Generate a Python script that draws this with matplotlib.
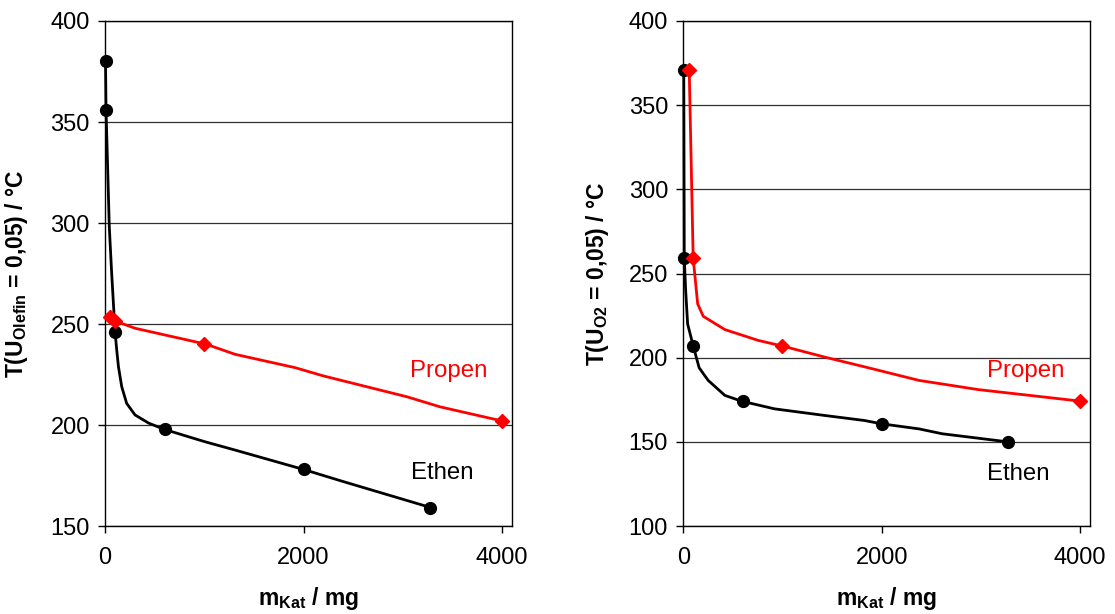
import matplotlib
matplotlib.use("Agg")
import matplotlib.pyplot as plt

plt.rcParams["font.family"] = ["Liberation Sans", "DejaVu Sans"]
plt.rcParams["mathtext.fontset"] = "custom"
plt.rcParams["mathtext.rm"] = "Liberation Sans"
plt.rcParams["mathtext.bf"] = "Liberation Sans:bold"

# left panel: T(U_Olefin = 0,05) vs catalyst mass
ethen_x_l = [5, 10, 100, 600, 2000, 3270]
ethen_y_l = [380, 356, 246, 198, 178, 159]
ethen_curve_x_l = [5, 10, 43, 67, 101, 118, 135, 168, 218, 302, 437, 588, 840, 1008, 1310, 2000, 2400, 3270]
ethen_curve_y_l = [380, 356, 298, 275, 246, 237, 228.9, 219, 210.7, 205, 201, 198, 194.2, 191.7, 187.6, 178, 172, 159.3]

propen_x_l = [50, 100, 1000, 4000]
propen_y_l = [253.6, 251.5, 240, 202]
propen_curve_x_l = [50, 100, 302, 1018, 1310, 1914, 2200, 3040, 3375, 4000]
propen_curve_y_l = [253.6, 251.5, 247.9, 240, 235, 228.4, 224.3, 214, 209, 202]

# right panel: T(U_O2 = 0,05) vs catalyst mass
ethen_x_r = [5, 10, 100, 600, 2000, 3270]
ethen_y_r = [371, 259.5, 207, 174.5, 160.8, 150]
ethen_curve_x_r = [5, 10, 24, 44, 100, 160, 251, 419, 586, 920, 1422, 1824, 2000, 2376, 2610, 3270]
ethen_curve_y_r = [371, 259.5, 240, 220, 207, 194, 186.5, 177.6, 174.2, 169.6, 165.7, 162.7, 160.7, 157.7, 154.8, 150]

propen_x_r = [60, 100, 1000, 4000]
propen_y_r = [371, 259, 207, 174.2]
propen_curve_x_r = [60, 100, 145, 201, 419, 753, 1014, 1422, 1900, 2376, 2978, 3280, 4000]
propen_curve_y_r = [371, 259, 232, 224.6, 216.7, 210.3, 206.7, 200.4, 193.5, 186.5, 181, 179, 174.2]

x_ticks = [0, 2000, 4000]
TICK_FS = 17
LABEL_FS = 16.5
NOTE_FS = 17.3

fig = plt.figure(figsize=(11.15, 6.14), dpi=100)
ax_l = fig.add_axes([0.0942, 0.1433, 0.3650, 0.8225])
ax_r = fig.add_axes([0.6128, 0.1433, 0.3648, 0.8225])


def style_axes(ax, ymin, ymax, ylabel, ylab_x):
    ax.set_xlim(0, 4100)
    ax.set_ylim(ymin, ymax)
    ax.set_xticks(x_ticks)
    ax.set_yticks(range(ymin, ymax + 1, 50))
    ax.tick_params(direction="out", length=5, width=1, labelsize=TICK_FS, colors="black")
    ax.tick_params(axis="x", pad=10)
    ax.tick_params(axis="y", pad=6)
    ax.yaxis.grid(True, color="#303030", linewidth=0.9)
    ax.set_axisbelow(True)
    for s in ax.spines.values():
        s.set_color("black")
        s.set_linewidth(1.0)
    ax.set_xlabel(r"m$_{\mathbf{Kat}}$ / mg", fontsize=LABEL_FS, fontweight="bold", va="top")
    ax.xaxis.set_label_coords(0.5, -0.117)
    ax.set_ylabel(ylabel, fontsize=LABEL_FS, fontweight="bold")
    ax.yaxis.set_label_coords(ylab_x, 0.5)


for ax, ex, ey, ecx, ecy, px, py, pcx, pcy in [
    (ax_l, ethen_x_l, ethen_y_l, ethen_curve_x_l, ethen_curve_y_l,
     propen_x_l, propen_y_l, propen_curve_x_l, propen_curve_y_l),
    (ax_r, ethen_x_r, ethen_y_r, ethen_curve_x_r, ethen_curve_y_r,
     propen_x_r, propen_y_r, propen_curve_x_r, propen_curve_y_r),
]:
    ax.plot(ecx, ecy, color="black", linewidth=2.0, zorder=3, clip_on=False)
    ax.plot(ex, ey, "o", color="black", markersize=8.5, zorder=4, clip_on=False)
    ax.plot(pcx, pcy, color="#ff0000", linewidth=2.0, zorder=3, clip_on=False)
    ax.plot(px, py, "D", color="#ff0000", markersize=7, zorder=4, clip_on=False)

style_axes(ax_l, 150, 400, r"T(U$_{\mathbf{Olefin}}$ = 0,05) / °C", -0.185)
style_axes(ax_r, 100, 400, r"T(U$_{\mathbf{O2}}$ = 0,05) / °C", -0.178)

ax_l.text(3073, 226.7, "Propen", color="#ff0000", fontsize=NOTE_FS, va="center")
ax_l.text(3083, 176.2, "Ethen", color="black", fontsize=NOTE_FS, va="center")
ax_r.text(3059, 191.8, "Propen", color="#ff0000", fontsize=NOTE_FS, va="center")
ax_r.text(3059, 131, "Ethen", color="black", fontsize=NOTE_FS, va="center")

fig.savefig("out.png", dpi=100, facecolor="white")
